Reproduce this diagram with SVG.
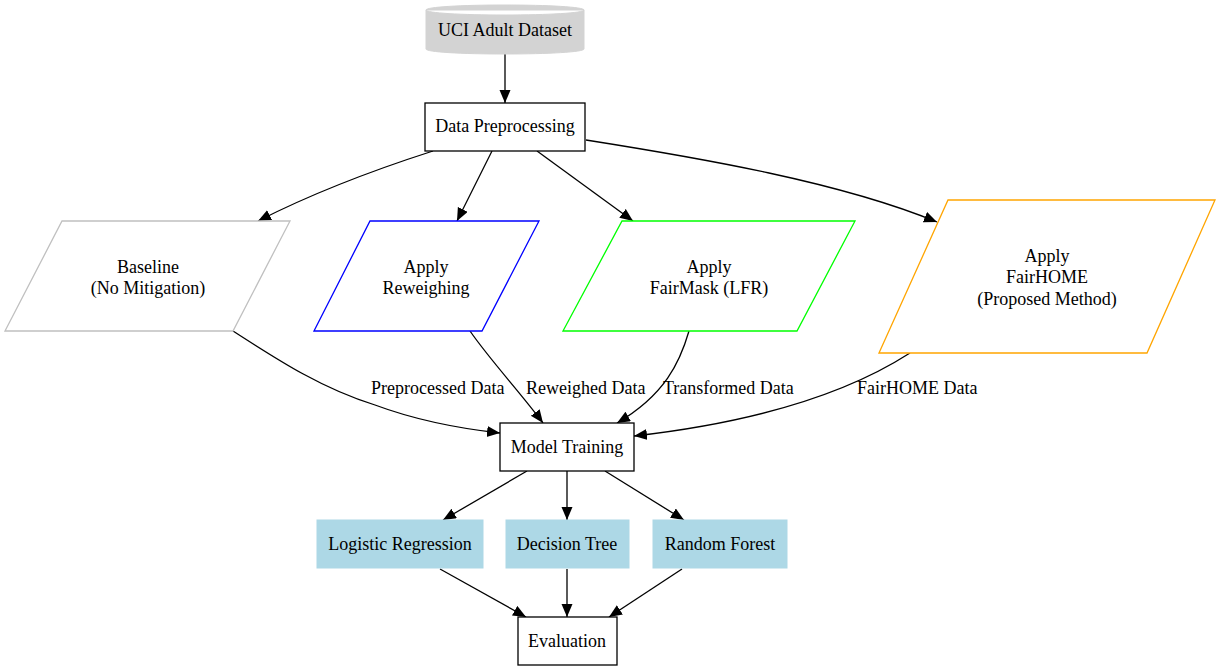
<svg xmlns="http://www.w3.org/2000/svg" width="1221" height="671" viewBox="0 0 1221 671">
<style>
text{font-family:"Liberation Serif","Times New Roman",serif;font-size:18px;fill:#000}
.c{text-anchor:middle}
.box{fill:#fff;stroke:#000;stroke-width:1.3}
.e{fill:none;stroke:#000;stroke-width:1.3;marker-end:url(#ah)}
.blue{fill:#add8e6;stroke:#add8e6}
</style>
<defs>
<marker id="ah" markerUnits="userSpaceOnUse" markerWidth="14" markerHeight="12" refX="13" refY="5.5" orient="auto">
<path d="M0,0 L13,5.5 L0,11 z" fill="#000"/>
</marker>
</defs>
<rect width="1221" height="671" fill="#fff"/>
<g id="connectors">
<path class="e" d="M505,54 L505,103"/>
<path class="e" d="M433,151 C380,168 315,192 258,221"/>
<path class="e" d="M492,151 L457,221"/>
<path class="e" d="M537,151 L633,221"/>
<path class="e" d="M586,140 C700,158 840,182 937,222"/>
<path class="e" d="M233,331 C275,358 320,388 375,405 C410,418 455,428 500,433"/>
<path class="e" d="M470,331 C490,360 520,392 543,423"/>
<path class="e" d="M689,331 C680,362 665,395 617,423"/>
<path class="e" d="M910,353 C840,398 740,424 634,436"/>
<path class="e" d="M527,471 L443,520"/>
<path class="e" d="M567,471 L567,520"/>
<path class="e" d="M605,471 L684,520"/>
<path class="e" d="M440,569 L526,617"/>
<path class="e" d="M567,569 L567,617"/>
<path class="e" d="M682,569 L609,617"/>
<text x="371" y="394">Preprocessed Data</text>
<text x="526" y="394">Reweighed Data</text>
<text x="663" y="394">Transformed Data</text>
<text x="857" y="394">FairHOME Data</text>
</g>
<g id="uci">
<path d="M584,10 C584,13 548,15 505,15 C461,15 426,13 426,10 L426,49 C426,52 461,54 505,54 C548,54 584,52 584,49 Z" fill="#d3d3d3" stroke="#d3d3d3"/>
<path d="M426,10 C426,7 461,5 505,5 C548,5 584,7 584,10 Z" fill="#d3d3d3" stroke="#d3d3d3"/>
<text class="c" x="505" y="36">UCI Adult Dataset</text>
</g>
<g id="preprocessing">
<rect class="box" x="425" y="103" width="160" height="48"/>
<text class="c" x="505" y="132">Data Preprocessing</text>
</g>
<g id="baseline">
<polygon points="5,331 62,221 290,221 233,331" fill="#fff" stroke="#c0c0c0" stroke-width="1.3"/>
<text class="c" x="148" y="273">Baseline</text>
<text class="c" x="148" y="294">(No Mitigation)</text>
</g>
<g id="reweighing">
<polygon points="314,331 370,221 539,221 482,331" fill="#fff" stroke="#0000ff" stroke-width="1.3"/>
<text class="c" x="426" y="273">Apply</text>
<text class="c" x="426" y="294">Reweighing</text>
</g>
<g id="fairmask">
<polygon points="563,331 622,221 855,221 797,331" fill="#fff" stroke="#00ff00" stroke-width="1.3"/>
<text class="c" x="709" y="273">Apply</text>
<text class="c" x="709" y="294">FairMask (LFR)</text>
</g>
<g id="fairhome">
<polygon points="879,353 948,200 1215,200 1147,353" fill="#fff" stroke="#ffa500" stroke-width="1.3"/>
<text class="c" x="1047" y="262">Apply</text>
<text class="c" x="1047" y="283">FairHOME</text>
<text class="c" x="1047" y="305">(Proposed Method)</text>
</g>
<g id="training">
<rect class="box" x="500" y="423" width="134" height="48"/>
<text class="c" x="567" y="453">Model Training</text>
</g>
<g id="lr">
<rect class="blue" x="317" y="520" width="166" height="48"/>
<text class="c" x="400" y="550">Logistic Regression</text>
</g>
<g id="dt">
<rect class="blue" x="506" y="520" width="123" height="48"/>
<text class="c" x="567" y="550">Decision Tree</text>
</g>
<g id="rf">
<rect class="blue" x="653" y="520" width="134" height="48"/>
<text class="c" x="720" y="550">Random Forest</text>
</g>
<g id="evaluation">
<rect class="box" x="518" y="617" width="99" height="48"/>
<text class="c" x="567" y="647">Evaluation</text>
</g>
</svg>
